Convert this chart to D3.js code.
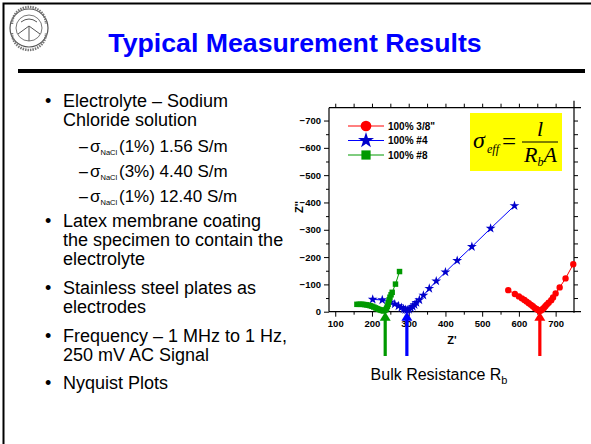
<!DOCTYPE html>
<html><head><meta charset="utf-8">
<script src="https://cdn.jsdelivr.net/npm/d3@7"></script>
<style>body{margin:0;background:#fff} svg{display:block}</style>
</head><body><svg id="c" width="591" height="444"></svg>
<script>
// ---- data ----
const seriesNames = ['100% 3/8"', '100% #4', '100% #8'];
const seriesColors = ['#FF0000', '#0000FF', '#009900'];
const markerColors = ['#FF0000', '#0000CC', '#009900'];
// [Z', Z'']
const red38 = [[571,-79],[589,-65],[600,-56],[608,-49],[615,-43],[621,-37],[627,-31],[633,-25],[638,-20],[643,-14],[648,-10],[652,-6],[656,-3],[660,-4],[664,-9],[668,-14],[672,-20],[676,-26],[681,-33],[688,-42],[693,-52],[700,-67],[711,-89],[727,-122],[748,-174]];
const blue4 = [[202,-45],[228,-43],[250,-35],[262,-28],[272,-21],[280,-15],[286,-10],[291,-7],[296,-6],[301,-8],[306,-13],[311,-19],[316,-25],[321,-33],[329,-43],[340,-60],[356,-85],[375,-112],[400,-145],[432,-187],[472,-238],[523,-305],[588,-388]];
const green8 = [[159,-27],[165,-27],[170,-27],[175,-27],[180,-26],[185,-25],[190,-24],[195,-22],[200,-20],[205,-17],[210,-14],[214,-11],[218,-9],[222,-7],[225,-5],[229,-4],[232,-3],[235,-5],[238,-8],[240,-13],[242,-20],[244,-27],[245,-35],[247,-44],[249,-53],[252,-62],[255,-71],[264,-101],[275,-147]];
const rbValues = [236, 295, 657];  // bulk resistance (arrow positions)
const xTicks = [100,200,300,400,500,600,700];
const xMinor = [100,150,200,250,300,350,400,450,500,550,600,650,700];
const yTicks = [0,-100,-200,-300,-400,-500,-600,-700];
const yMinor = [0,-50,-100,-150,-200,-250,-300,-350,-400,-450,-500,-550,-600,-650,-700];

const mainLines = [
  {b:true,  t:'Electrolyte \u2013 Sodium', y:107},
  {b:false, t:'Chloride solution', y:126},
  {b:true,  t:'Latex membrane coating', y:227},
  {b:false, t:'the specimen to contain the', y:246},
  {b:false, t:'electrolyte', y:265},
  {b:true,  t:'Stainless steel plates as', y:294},
  {b:false, t:'electrodes', y:313},
  {b:true,  t:'Frequency \u2013 1 MHz to 1 Hz,', y:342},
  {b:false, t:'250 mV AC Signal', y:361},
  {b:true,  t:'Nyquist Plots', y:389}
];
const subLines = [
  {t:'(1%) 1.56 S/m', y:152},
  {t:'(3%) 4.40 S/m', y:177},
  {t:'(1%) 12.40 S/m', y:202}
];

const svg = d3.select('#c');
const SANS = '"Liberation Sans", Arial, sans-serif';
const SERIF = '"Liberation Serif", "Times New Roman", serif';

svg.append('rect').attr('width',591).attr('height',444).attr('fill','#fff');

// frame
svg.append('path').attr('d','M3.5,444 V3.5 H591').attr('fill','none').attr('stroke','#000').attr('stroke-width',2);

// logo (seal)
const logo = svg.append('g').attr('transform','translate(29,28)').attr('fill','none').attr('stroke','#555');
logo.append('circle').attr('r',19).attr('stroke-width',1.2);
logo.append('circle').attr('r',13).attr('stroke-width',0.8);
logo.append('path').attr('d','M-11,6 L0,-2 L11,6 M0,-2 V13 M-8,-6 Q0,-12 8,-6').attr('stroke-width',1);
logo.append('path').attr('d','M-17,-4 A17,17 0 0 1 17,-4 M-17,5 A17,17 0 0 0 17,5').attr('stroke','#777').attr('stroke-width',2.5).attr('stroke-dasharray','1.5,1');

// title
svg.append('text').attr('x',295).attr('y',52).attr('text-anchor','middle')
  .attr('font-family',SANS).attr('font-weight','bold').attr('font-size',26.7).attr('fill','#0000FF')
  .text('Typical Measurement Results');
svg.append('line').attr('x1',18).attr('x2',585).attr('y1',71).attr('y2',71).attr('stroke','#000').attr('stroke-width',4);

// bullets
const T = svg.append('g').attr('font-family',SANS).attr('fill','#000');
mainLines.forEach(l => {
  if (l.b) T.append('text').attr('x',45).attr('y',l.y).attr('font-size',18).text('\u2022');
  T.append('text').attr('x',63).attr('y',l.y).attr('font-size',18).text(l.t);
});
subLines.forEach(l => {
  T.append('text').attr('x',79).attr('y',l.y).attr('font-size',16).text('\u2013');
  const t = T.append('text').attr('x',90).attr('y',l.y).attr('font-size',17);
  t.append('tspan').text('\u03c3');
  t.append('tspan').attr('font-size',7.5).attr('dy',3).text('NaCl');
  t.append('tspan').attr('dy',-3).attr('x',119).text(l.t);
});

// ---- chart ----
const x = d3.scaleLinear().domain([83, 750]).range([329, 574]);
const y = d3.scaleLinear().domain([0, -747]).range([311.7, 107.7]);
const C = svg.append('g');
const tickFont = g => g.selectAll('text').attr('font-family',SANS).attr('font-weight','bold').attr('font-size',9.5).attr('fill','#000');

// axes frame lines
C.append('line').attr('x1',x(83)).attr('x2',x(750)+7).attr('y1',y(0)).attr('y2',y(0)).attr('stroke','#000').attr('stroke-width',1.2);
C.append('line').attr('x1',x(83)).attr('x2',x(750)+7).attr('y1',y(-747)).attr('y2',y(-747)).attr('stroke','#000').attr('stroke-width',1.2);
C.append('line').attr('x1',x(83)).attr('x2',x(83)).attr('y1',y(0)).attr('y2',y(-747)).attr('stroke','#000').attr('stroke-width',1.2);
C.append('line').attr('x1',x(750)).attr('x2',x(750)).attr('y1',y(0)+1).attr('y2',y(-747)-7).attr('stroke','#000').attr('stroke-width',1.2);

// bottom axis
const xa = C.append('g').attr('transform',`translate(0,${y(0)})`)
  .call(d3.axisBottom(x).tickValues(xTicks).tickSize(5).tickPadding(4));
xa.select('.domain').remove();
xa.selectAll('line').attr('stroke','#000');
tickFont(xa);
C.append('g').attr('transform',`translate(0,${y(0)})`)
  .call(d3.axisBottom(x).tickValues(xMinor.filter(v=>v%100)).tickSize(3).tickFormat(''))
  .call(g=>g.select('.domain').remove());
// top axis
C.append('g').attr('transform',`translate(0,${y(-747)})`)
  .call(d3.axisTop(x).tickValues(xMinor).tickSize(4).tickFormat(''))
  .call(g=>g.select('.domain').remove());
// left axis
const ya = C.append('g').attr('transform',`translate(${x(83)},0)`)
  .call(d3.axisLeft(y).tickValues(yTicks).tickSize(5).tickPadding(3).tickFormat(d3.format('d')));
ya.select('.domain').remove();
tickFont(ya);
C.append('g').attr('transform',`translate(${x(83)},0)`)
  .call(d3.axisLeft(y).tickValues(yMinor.filter(v=>v%100)).tickSize(3).tickFormat(''))
  .call(g=>g.select('.domain').remove());
// right axis
C.append('g').attr('transform',`translate(${x(750)},0)`)
  .call(d3.axisRight(y).tickValues(yMinor.filter(v=>v<0)).tickSize(4).tickFormat(''))
  .call(g=>g.select('.domain').remove());

// axis titles
C.append('text').attr('x',452).attr('y',344).attr('text-anchor','middle').attr('font-family',SANS)
  .attr('font-weight','bold').attr('font-size',11).text("Z'");
C.append('text').attr('transform','translate(303,207) rotate(-90)').attr('text-anchor','middle').attr('font-family',SANS)
  .attr('font-weight','bold').attr('font-size',11).text("Z''");

// series
const allSeries = [red38, blue4, green8];
const symbols = [d3.symbolCircle, d3.symbolStar, d3.symbolSquare];
const symSize = [32, 30, 30];
const line = d3.line().x(d=>x(d[0])).y(d=>y(d[1]));
allSeries.forEach((s,i) => {
  C.append('path').datum(s).attr('d',line).attr('fill','none').attr('stroke',seriesColors[i]).attr('stroke-width',1);
  C.append('g').selectAll('path').data(s).join('path')
    .attr('transform',d=>`translate(${x(d[0])},${y(d[1])})`)
    .attr('d',d3.symbol(symbols[i], symSize[i])).attr('fill',markerColors[i]);
});

// legend
const lg = C.append('g').attr('font-family',SANS).attr('font-weight','bold').attr('font-size',10);
seriesNames.forEach((n,i) => {
  const yy = 126 + i*14.5;
  lg.append('line').attr('x1',348).attr('x2',384).attr('y1',yy).attr('y2',yy).attr('stroke',seriesColors[i]).attr('stroke-width',1);
  lg.append('path').attr('transform',`translate(366,${yy})`).attr('d',d3.symbol(symbols[i], [90,80,85][i])).attr('fill',markerColors[i]);
  lg.append('text').attr('x',388).attr('y',yy+3.5).text(n);
});

// formula box
const F = C.append('g');
F.append('rect').attr('x',470).attr('y',113).attr('width',92).attr('height',58).attr('fill','#FFFF00');
const ft = F.append('g').attr('font-family',SERIF).attr('font-style','italic').attr('fill','#000');
ft.append('text').attr('x',473).attr('y',148).attr('font-size',24).text('\u03c3');
ft.append('text').attr('x',487).attr('y',153).attr('font-size',12).text('eff');
F.append('text').attr('x',502).attr('y',150).attr('font-family',SERIF).attr('font-size',25).text('=');
F.append('line').attr('x1',522).attr('x2',558).attr('y1',142).attr('y2',142).attr('stroke','#000').attr('stroke-width',1);
ft.append('text').attr('x',537).attr('y',136).attr('font-size',22).text('l');
const rba = ft.append('text').attr('x',524).attr('y',162).attr('font-size',22);
rba.append('tspan').text('R');
rba.append('tspan').attr('font-size',12).attr('dy',4).text('b');
rba.append('tspan').attr('dy',-4).text('A');

// arrows
rbValues.forEach((v,i) => {
  const ax = x(v), tip = y(0);
  const A = C.append('g').attr('fill',seriesColors[[2,1,0][i]]);
  A.append('rect').attr('x',ax-1.6).attr('y',tip+8).attr('width',3.2).attr('height',356-tip-8);
  A.append('path').attr('d',`M${ax},${tip} L${ax+5.5},${tip+9} L${ax-5.5},${tip+9} Z`);
});

// caption
const cap = svg.append('text').attr('x',439).attr('y',380).attr('text-anchor','middle').attr('font-family',SANS).attr('font-size',16);
cap.append('tspan').text('Bulk Resistance R');
cap.append('tspan').attr('font-size',11).attr('dy',4).text('b');
</script></body></html>
